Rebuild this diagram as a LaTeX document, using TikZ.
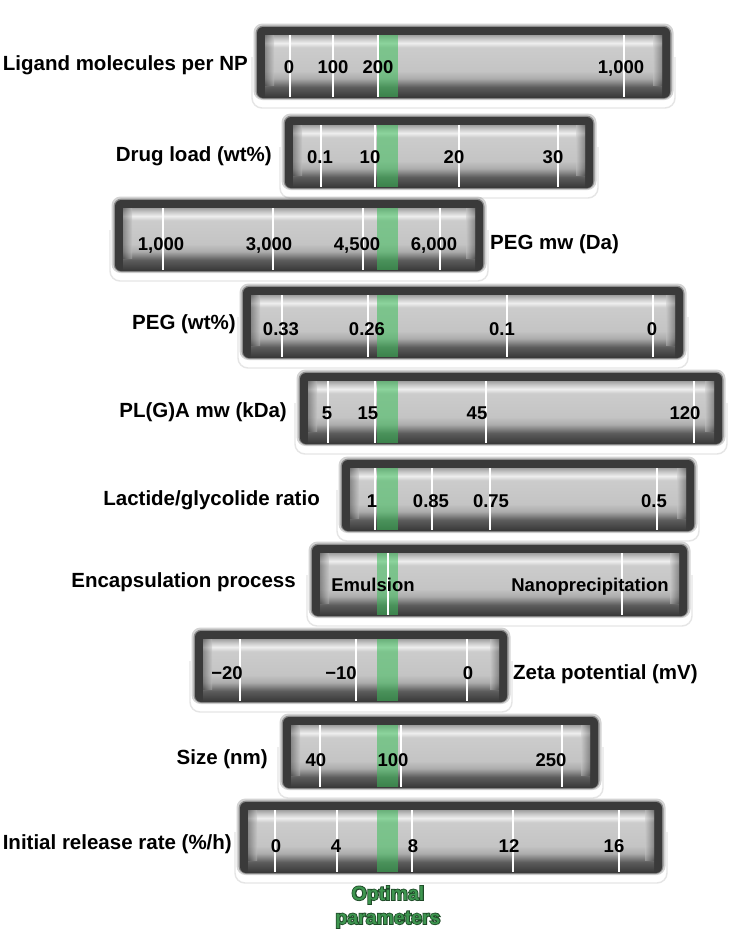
\documentclass[tikz,border=0pt]{standalone}
\usepackage{fontspec}
\setmainfont{Liberation Sans}
\font\optolfont="Liberation Sans/B:embolden=9" at 19.5pt
\definecolor{framec}{RGB}{58,58,58}
\definecolor{cA}{RGB}{92,92,92}
\definecolor{cB}{RGB}{172,172,172}
\definecolor{cC}{RGB}{196,196,196}
\definecolor{cD}{RGB}{204,204,204}
\definecolor{cE}{RGB}{238,238,238}
\definecolor{cF}{RGB}{200,200,200}
\definecolor{cG}{RGB}{160,160,160}
\definecolor{optgreen}{RGB}{60,190,90}
\definecolor{optdark}{RGB}{31,74,40}
\definecolor{optfill}{RGB}{62,150,80}
\pgfdeclareverticalshading{barshade}{100bp}{color(0bp)=(framec); color(25bp)=(framec); color(33bp)=(cA); color(40bp)=(cB); color(46bp)=(cC); color(65bp)=(cD); color(68.5bp)=(cE); color(72bp)=(cF); color(75bp)=(cG); color(100bp)=(cG)}
\tikzset{
  glowrim/.style={draw=black!10, line width=1.4pt, rounded corners=10},
  tickline/.style={draw=white, line width=1.6pt},
  sidelab/.style={font=\bfseries\fontsize{20.5}{24}\selectfont, inner sep=0pt, anchor=base east},
  sidelabr/.style={font=\bfseries\fontsize{20.5}{24}\selectfont, inner sep=0pt, anchor=base west},
  ticklab/.style={font=\bfseries\fontsize{18.5}{22}\selectfont, inner sep=0pt, anchor=base},
  optlab/.style={font=\bfseries\fontsize{19.5}{24}\selectfont, inner sep=0pt, anchor=base, text=optfill},
  optline/.style={font=\optolfont, inner sep=0pt, anchor=base, text=optdark}
}
\newcommand\gaugebar[3]{%
  \draw[glowrim] ({#1-5},{#3+30}) -- ({#1-5},{#3+81}) -- ({#2+5},{#3+81}) -- ({#2+5},{#3+30});
  \fill[framec,opacity=.22,rounded corners=9] ({#1-3.5},{#3-3.5}) rectangle ({#2+3.5},{#3+73});
  \fill[framec,opacity=.45,rounded corners=8] ({#1-1.5},{#3-1.5}) rectangle ({#2+1.5},{#3+72});
  \fill[framec,rounded corners=6] (#1,#3) rectangle (#2,{#3+71});
  \shade[shading=barshade] ({#1+8},{#3+8}) rectangle ({#2-8},{#3+70});
  \shade[left color=framec, right color=cC, opacity=.45] ({#1+8},{#3+8}) rectangle ({#1+17},{#3+58});
  \shade[right color=framec, left color=cC, opacity=.45] ({#2-17},{#3+8}) rectangle ({#2-8},{#3+58});
  \fill[optgreen,opacity=.55] (377,{#3+8}) rectangle (398,{#3+70});
}
\newcommand\gaugeticks[2]{%
  \foreach \tk in {#2} {\draw[tickline] (\tk,{#1+8}) -- (\tk,{#1+70});}
}
\begin{document}
\begin{tikzpicture}[x=1pt,y=-1pt]
\useasboundingbox[fill=white] (0,0) rectangle (737,930);

% 1 Ligand
\gaugebar{257}{670}{27}
\gaugeticks{27}{290,333,378,624}
\node[sidelab] (l1) at (248,70) {Ligand molecules per NP};
\node[ticklab] (t1a) at (289,73) {0};
\node[ticklab] (t1b) at (333,73) {100};
\node[ticklab] (t1c) at (378,73) {200};
\node[ticklab] (t1d) at (621,73) {1,000};

% 2 Drug load
\gaugebar{285}{593}{117}
\gaugeticks{117}{321,375,459,558}
\node[sidelab] (l2) at (272,161) {Drug load (wt\%)};
\node[ticklab] (t2a) at (320,163) {0.1};
\node[ticklab] (t2b) at (370,163) {10};
\node[ticklab] (t2c) at (454,163) {20};
\node[ticklab] (t2d) at (553,163) {30};

% 3 PEG mw
\gaugebar{115}{483}{200}
\gaugeticks{200}{163,273,363,440}
\node[sidelabr] (l3) at (490,249) {PEG mw (Da)};
\node[ticklab] (t3a) at (161,250) {1,000};
\node[ticklab] (t3b) at (269,250) {3,000};
\node[ticklab] (t3c) at (357,250) {4,500};
\node[ticklab] (t3d) at (434,250) {6,000};

% 4 PEG wt
\gaugebar{243}{683}{287}
\gaugeticks{287}{282,368,507,653}
\node[sidelab] (l4) at (236,329) {PEG (wt\%)};
\node[ticklab] (t4a) at (281,335) {0.33};
\node[ticklab] (t4b) at (367,335) {0.26};
\node[ticklab] (t4c) at (502,335) {0.1};
\node[ticklab] (t4d) at (652,335) {0};

% 5 PL(G)A
\gaugebar{300}{722}{373}
\gaugeticks{373}{328,375,486,694}
\node[sidelab] (l5) at (287,417) {PL(G)A mw (kDa)};
\node[ticklab] (t5a) at (327,419) {5};
\node[ticklab] (t5b) at (368,419) {15};
\node[ticklab] (t5c) at (477,419) {45};
\node[ticklab] (t5d) at (685,419) {120};

% 6 Lactide
\gaugebar{342}{694}{460}
\gaugeticks{460}{375,432,490,657}
\node[sidelab] (l6) at (320,505) {Lactide/glycolide ratio};
\node[ticklab] (t6a) at (372,507) {1};
\node[ticklab] (t6b) at (431,507) {0.85};
\node[ticklab] (t6c) at (491,507) {0.75};
\node[ticklab] (t6d) at (654,507) {0.5};

% 7 Encapsulation
\gaugebar{312}{687}{545}
\gaugeticks{545}{388,622}
\node[sidelab] (l7) at (296,587) {Encapsulation process};
\node[ticklab] (t7a) at (373,591) {Emulsion};
\node[ticklab] (t7b) at (590,591) {Nanoprecipitation};

% 8 Zeta
\gaugebar{195}{507}{631}
\gaugeticks{631}{240,356,467}
\node[sidelabr] (l8) at (513,679) {Zeta potential (mV)};
\node[ticklab] (t8a) at (227,679) {−20};
\node[ticklab] (t8b) at (341,679) {−10};
\node[ticklab] (t8c) at (468,679) {0};

% 9 Size
\gaugebar{283}{598}{717}
\gaugeticks{717}{320,401,562}
\node[sidelab] (l9) at (268,764) {Size (nm)};
\node[ticklab] (t9a) at (316,766) {40};
\node[ticklab] (t9b) at (393,766) {100};
\node[ticklab] (t9c) at (551,766) {250};

% 10 Release
\gaugebar{240}{662}{802}
\gaugeticks{802}{275,337,412,513,619}
\node[sidelab] (l10) at (232,849) {Initial release rate (\%/h)};
\node[ticklab] (t10a) at (276,852) {0};
\node[ticklab] (t10b) at (336,852) {4};
\node[ticklab] (t10c) at (413,852) {8};
\node[ticklab] (t10d) at (509,852) {12};
\node[ticklab] (t10e) at (614,852) {16};

% Optimal parameters (outlined text)
\node[optline] (opt1o) at (388,900) {Optimal};
\node[optline] (opt2o) at (388,924) {parameters};
\node[optlab] (opt1) at (opt1o.base) {Optimal};
\node[optlab] (opt2) at (opt2o.base) {parameters};
\end{tikzpicture}
\end{document}
